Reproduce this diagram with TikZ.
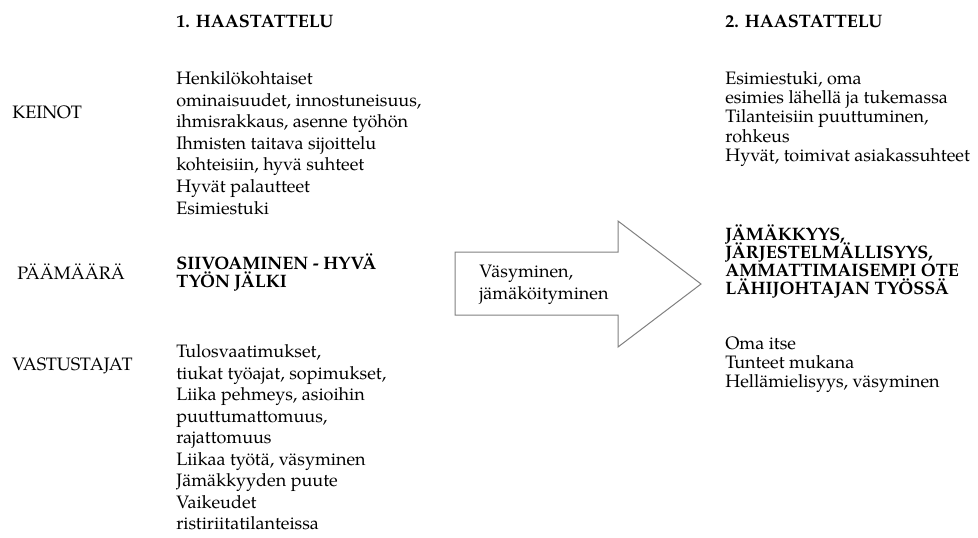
\documentclass[tikz,border=0pt]{standalone}
\usepackage{fontspec}
\setmainfont{texgyrepagella}[Extension=.otf, UprightFont=*-regular, BoldFont=*-bold, ItalicFont=*-italic, BoldItalicFont=*-bolditalic]

\begin{document}
\begin{tikzpicture}[x=0.75pt, y=-0.75pt,
  txt/.style={anchor=base west, inner sep=0pt, font=\fontsize{13.5}{16}\selectfont},
  boldtxt/.style={txt, font=\fontsize{13.5}{16}\selectfont\bfseries},
  arrowshape/.style={draw=black!50, fill=white, line width=0.75pt, line join=miter}]
\useasboundingbox (0,0) rectangle (978,537);

% column headings
\node[boldtxt] (head1) at (176,27) {1. HAASTATTELU};
\node[boldtxt] (head2) at (725,27) {2. HAASTATTELU};

% row labels
\node[txt] (lblkeinot) at (12,118) {KEINOT};
\node[txt] (lblpaamaara) at (17,279) {PÄÄMÄÄRÄ};
\node[txt] (lblvastustajat) at (12,370.5) {VASTUSTAJAT};

% first interview: means
\foreach \t [count=\i] in {Henkilökohtaiset, {ominaisuudet, innostuneisuus,}, {ihmisrakkaus, asenne työhön}, Ihmisten taitava sijoittelu, {kohteisiin, hyvä suhteet}, Hyvät palautteet, Esimiestuki}
  \node[txt] (keino-\i) at (176,{84.5+21.6*(\i-1)}) {\t};

% first interview: goal
\node[boldtxt] (goal1a) at (176,269) {SIIVOAMINEN - HYVÄ};
\node[boldtxt] (goal1b) at (176,287) {TYÖN JÄLKI};

% first interview: obstacles
\foreach \t [count=\i] in {{Tulosvaatimukset,}, {tiukat työajat, sopimukset,}, {Liika pehmeys, asioihin}, {puuttumattomuus,}, rajattomuus, {Liikaa työtä, väsyminen}, Jämäkkyyden puute, Vaikeudet, ristiriitatilanteissa}
  \node[txt] (vast-\i) at (176,{357.5+21.5*(\i-1)}) {\t};

% transition arrow
\draw[arrowshape] (455,252) -- (618,252) -- (618,221) -- (701,284)
  -- (618,347) -- (618,315) -- (455,315) -- cycle;
\node[txt] (arrowa) at (479,277) {Väsyminen,};
\node[txt] (arrowb) at (479,299) {jämäköityminen};

% second interview: means
\foreach \t [count=\i] in {{Esimiestuki, oma}, esimies lähellä ja tukemassa, {Tilanteisiin puuttuminen,}, rohkeus, {Hyvät, toimivat asiakassuhteet}}
  \node[txt] (keino2-\i) at (725,{84.5+19.2*(\i-1)}) {\t};

% second interview: goal
\foreach \t [count=\i] in {{JÄMÄKKYYS,}, {JÄRJESTELMÄLLISYYS,}, AMMATTIMAISEMPI OTE, LÄHIJOHTAJAN TYÖSSÄ}
  \node[boldtxt] (goal2-\i) at (725,{240+18.3*(\i-1)}) {\t};

% second interview: obstacles
\foreach \t [count=\i] in {Oma itse, Tunteet mukana, {Hellämielisyys, väsyminen}}
  \node[txt] (vast2-\i) at (725,{349.5+19.2*(\i-1)}) {\t};
\end{tikzpicture}
\end{document}
